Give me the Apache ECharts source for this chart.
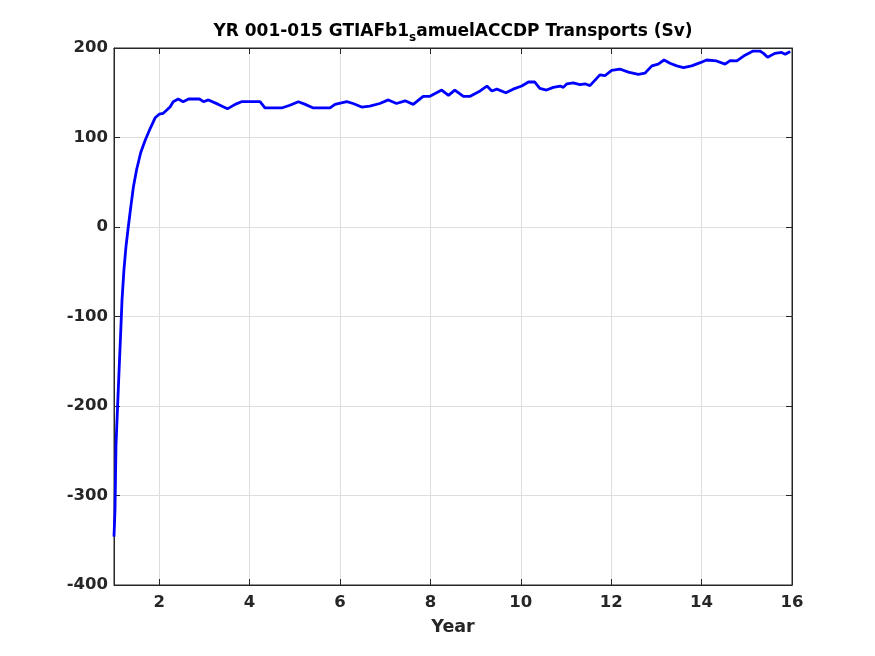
<!DOCTYPE html>
<html><head><meta charset="utf-8">
<script src="https://cdn.jsdelivr.net/npm/echarts@6/dist/echarts.min.js"></script>
<style>html,body{margin:0;padding:0;background:#fff}#c{width:875px;height:656px}</style>
</head><body><div id="c"></div>
<script>
const years = [1.0,1.022,1.044,1.073,1.11,1.148,1.177,1.22,1.265,1.316,1.37,1.43,1.50,1.59,1.69,1.80,1.91,2.0,2.09,2.24,2.31,2.42,2.53,2.65,2.89,2.98,3.09,3.31,3.51,3.68,3.82,4.01,4.23,4.34,4.71,4.89,5.08,5.23,5.41,5.78,5.89,6.15,6.29,6.48,6.66,6.88,7.07,7.25,7.44,7.62,7.84,7.99,8.25,8.40,8.54,8.73,8.88,9.10,9.25,9.36,9.47,9.67,9.83,10.02,10.17,10.31,10.42,10.57,10.72,10.87,10.94,11.02,11.16,11.31,11.42,11.53,11.75,11.86,12.01,12.19,12.38,12.60,12.75,12.90,13.04,13.17,13.30,13.45,13.60,13.78,13.97,14.11,14.33,14.52,14.63,14.78,14.96,15.14,15.29,15.37,15.46,15.62,15.77,15.85,15.96];
const transport = [-346,-316,-244,-208,-163,-118,-82,-48,-22,0,22,45,64,83,97,110,122,126,127,134,140,143,140,143,143,140,142,137,132,137,140,140,140,133,133,136,140,137,133,133,137,140,138,134,135,138,142,138,141,137,146,146,153,147,153,146,146,152,157.5,152,154,150,154,157.5,162,162,155,153,156,157.5,156,160,161,159,160,158,170,169,175,176.5,173,170.6,172,180,182,186.6,183,180,178,180,183.6,186.6,185.5,182,186,185.5,192,196.6,196.6,194,189.6,194,195,193,196];
const xTicks = [2,4,6,8,10,12,14,16];
const yTicks = [-400,-300,-200,-100,0,100,200];

const data = years.map((x,i)=>[x,transport[i]]);
const ax = '#262626';
const font = 'DejaVu Sans';
const chart = echarts.init(document.getElementById('c'));
chart.setOption({
  animation:false,
  title:{
    text:'{b|YR 001-015 GTIAFb1}{s|s}{b|amuelACCDP Transports (Sv)}',
    left:448, top:14, textAlign:'center',
    textStyle:{rich:{
      b:{fontFamily:font,fontWeight:'bold',fontSize:17,color:'#000'},
      s:{fontFamily:font,fontWeight:'bold',fontSize:12,color:'#000',padding:[13,0,0,0]}
    }}
  },
  grid:{left:114,right:83,top:48,bottom:71,show:true,borderColor:ax,borderWidth:1,backgroundColor:'#fff'},
  xAxis:[{
    type:'value',min:1,max:16,
    name:'Year',nameLocation:'middle',nameGap:33,
    nameTextStyle:{fontFamily:font,fontWeight:'bold',fontSize:17.5,color:ax},
    axisLine:{show:true,onZero:false,lineStyle:{color:ax}},
    axisTick:{show:true,inside:true,length:6,customValues:xTicks,lineStyle:{color:ax}},
    axisLabel:{fontFamily:font,fontWeight:'bold',fontSize:16.5,color:ax,margin:9,customValues:xTicks},
    splitLine:{show:true,lineStyle:{color:'#dedede',width:1}}
  },{
    type:'value',min:1,max:16,position:'top',
    axisLine:{show:true,onZero:false,lineStyle:{color:ax}},
    axisTick:{show:true,inside:true,length:6,customValues:xTicks,lineStyle:{color:ax}},
    axisLabel:{show:false},splitLine:{show:false}
  }],
  yAxis:[{
    type:'value',min:-400,max:200,
    axisLine:{show:true,onZero:false,lineStyle:{color:ax}},
    axisTick:{show:true,inside:true,length:6,customValues:yTicks,lineStyle:{color:ax}},
    axisLabel:{fontFamily:font,fontWeight:'bold',fontSize:16.5,color:ax,margin:6,customValues:yTicks},
    splitLine:{show:true,lineStyle:{color:'#dedede',width:1}}
  },{
    type:'value',min:-400,max:200,position:'right',
    axisLine:{show:true,onZero:false,lineStyle:{color:ax}},
    axisTick:{show:true,inside:true,length:6,customValues:yTicks,lineStyle:{color:ax}},
    axisLabel:{show:false},splitLine:{show:false}
  }],
  series:[{
    type:'line',data:data,xAxisIndex:0,yAxisIndex:0,
    showSymbol:false,smooth:false,
    lineStyle:{color:'#0000ff',width:2.8},
    itemStyle:{color:'#0000ff'}
  }]
});
</script></body></html>
